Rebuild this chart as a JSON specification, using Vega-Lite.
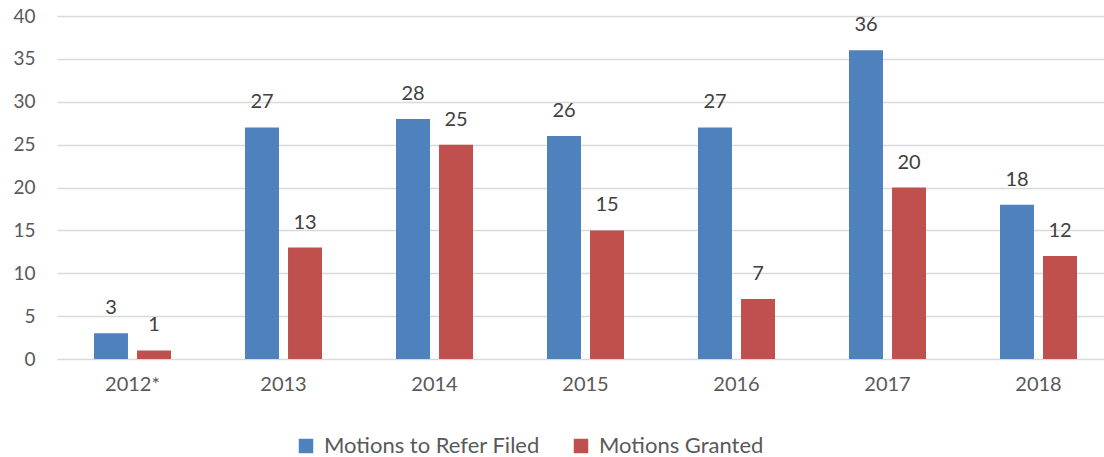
{
  "$schema": "https://vega.github.io/schema/vega-lite/v6.json",
  "autosize": {"type": "none"},
  "padding": {"left": 57, "top": 16, "right": 0, "bottom": 98},
  "width": 1057,
  "height": 343,
  "background": "white",
  "config": {"view": {"stroke": null}, "font": "Lato"},
  "data": {"values": [
    {"year": "2012*", "series": "Motions to Refer Filed", "value": 3},
    {"year": "2012*", "series": "Motions Granted", "value": 1},
    {"year": "2013", "series": "Motions to Refer Filed", "value": 27},
    {"year": "2013", "series": "Motions Granted", "value": 13},
    {"year": "2014", "series": "Motions to Refer Filed", "value": 28},
    {"year": "2014", "series": "Motions Granted", "value": 25},
    {"year": "2015", "series": "Motions to Refer Filed", "value": 26},
    {"year": "2015", "series": "Motions Granted", "value": 15},
    {"year": "2016", "series": "Motions to Refer Filed", "value": 27},
    {"year": "2016", "series": "Motions Granted", "value": 7},
    {"year": "2017", "series": "Motions to Refer Filed", "value": 36},
    {"year": "2017", "series": "Motions Granted", "value": 20},
    {"year": "2018", "series": "Motions to Refer Filed", "value": 18},
    {"year": "2018", "series": "Motions Granted", "value": 12}
  ]},
  "encoding": {
    "x": {"field": "year", "type": "nominal", "sort": null,
      "scale": {"paddingInner": 0.49, "paddingOuter": 0.245},
      "axis": {"title": null, "labelAngle": 0, "domain": false, "ticks": false, "labelFontSize": 20, "labelColor": "#595959", "labelPadding": 15, "grid": false}},
    "xOffset": {"field": "series", "type": "nominal", "sort": ["Motions to Refer Filed", "Motions Granted"],
      "scale": {"paddingInner": 0.21, "paddingOuter": 0}},
    "y": {"field": "value", "type": "quantitative",
      "scale": {"domain": [0, 40], "nice": false},
      "axis": {"title": null, "values": [0, 5, 10, 15, 20, 25, 30, 35, 40], "domain": false, "ticks": false, "labelFontSize": 19, "labelColor": "#595959", "labelPadding": 22, "gridColor": "#d9d9d9", "gridWidth": 1.5}}
  },
  "layer": [
    {
      "mark": {"type": "bar"},
      "encoding": {
        "color": {"field": "series", "type": "nominal", "sort": ["Motions to Refer Filed", "Motions Granted"],
          "scale": {"domain": ["Motions to Refer Filed", "Motions Granted"], "range": ["#4F81BD", "#C0504D"]},
          "legend": {"title": null, "orient": "none", "direction": "horizontal", "legendX": 238, "legendY": 419,
            "symbolType": "square", "symbolSize": 210, "symbolOpacity": 1, "labelFontSize": 22, "labelLimit": 500, "labelColor": "#595959", "columnPadding": 30, "labelOffset": 7}}
      }
    },
    {
      "mark": {"type": "text", "baseline": "alphabetic", "dy": -19, "fontSize": 20, "color": "#404040"},
      "encoding": {"text": {"field": "value", "type": "quantitative"}}
    }
  ]
}
